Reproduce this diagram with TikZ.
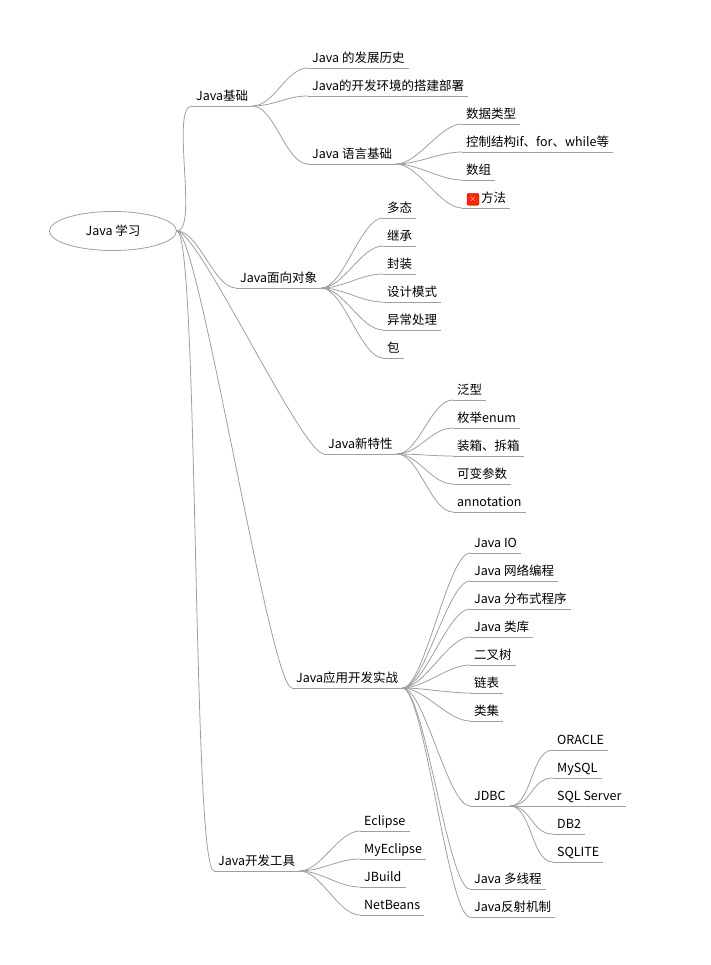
\documentclass[tikz,border=0pt]{standalone}
\usepackage{fontspec}
\setmainfont{Noto Sans CJK SC}
\usetikzlibrary{shapes.geometric}

\tikzset{
	branch/.style={draw=gray!75, line width=0.8pt},
	topic/.style={anchor=south west, inner xsep=4pt, inner ysep=2pt, text height=10pt, text depth=3pt,
		font=\fontsize{12.5}{14}\selectfont},
}
% node with an underline, placed at the start of its line
\newcommand{\topic}[4]{\node[topic] (#1) at (#2,#3) {#4};
	\draw[branch] (#1.south west) -- (#1.south east);}
% curved connector from one line end to the next line start
\newcommand{\link}[2]{\draw[branch] (#1) .. controls +(22,0) and +(-22,0) .. (#2.south west);}

\begin{document}
\begin{tikzpicture}[x=1pt, y=-1pt]
	\useasboundingbox (0,0) rectangle (711,965);

	\node[draw=gray!75, line width=0.8pt, ellipse, minimum width=127pt, minimum height=39pt,
		font=\fontsize{12.5}{14}\selectfont] (root) at (113,231) {Java 学习};

	% level one
	\topic{basic}{192}{106}{Java基础}
	\topic{oop}{236}{288}{Java面向对象}
	\topic{newf}{324}{454}{Java新特性}
	\topic{app}{292}{688}{Java应用开发实战}
	\topic{tools}{214}{871}{Java开发工具}
	\foreach \n in {basic,oop,newf,app,tools}
		\link{root.east}{\n};

	% Java 基础
	\topic{hist}{308}{68}{Java 的发展历史}
	\topic{env}{308}{96}{Java的开发环境的搭建部署}
	\topic{lang}{308}{164}{Java 语言基础}
	\foreach \n in {hist,env,lang}
		\link{basic.south east}{\n};

	\topic{types}{462}{124}{数据类型}
	\topic{ctrl}{462}{152}{控制结构if、for、while等}
	\topic{arr}{462}{180}{数组}
	\topic{meth}{462}{208}{\hspace{15pt}方法}
	\foreach \n in {types,ctrl,arr,meth}
		\link{lang.south east}{\n};
	\node[fill=red!70!orange, draw=red!60!black, rounded corners=2pt, minimum size=12pt, inner sep=0pt,
		text=white, font=\bfseries\small] (icon) at ([xshift=11pt]meth.west) {$\times$};

	% Java 面向对象
	\topic{poly}{383}{218}{多态}
	\topic{inh}{383}{246}{继承}
	\topic{enc}{383}{274}{封装}
	\topic{pat}{383}{302}{设计模式}
	\topic{exc}{383}{330}{异常处理}
	\topic{pkg}{383}{358}{包}
	\foreach \n in {poly,inh,enc,pat,exc,pkg}
		\link{oop.south east}{\n};

	% Java 新特性
	\topic{gen}{453}{400}{泛型}
	\topic{enum}{453}{428}{枚举enum}
	\topic{box}{453}{456}{装箱、拆箱}
	\topic{var}{453}{484}{可变参数}
	\topic{ann}{453}{512}{annotation}
	\foreach \n in {gen,enum,box,var,ann}
		\link{newf.south east}{\n};

	% Java 应用开发实战
	\topic{io}{470}{553}{Java IO}
	\topic{net}{470}{581}{Java 网络编程}
	\topic{dist}{470}{609}{Java 分布式程序}
	\topic{lib}{470}{637}{Java 类库}
	\topic{tree}{470}{665}{二叉树}
	\topic{list}{470}{693}{链表}
	\topic{coll}{470}{721}{类集}
	\topic{jdbc}{470}{806}{JDBC}
	\topic{thr}{470}{889}{Java 多线程}
	\topic{refl}{470}{917}{Java反射机制}
	\foreach \n in {io,net,dist,lib,tree,list,coll,jdbc,thr,refl}
		\link{app.south east}{\n};

	\topic{ora}{553}{750}{ORACLE}
	\topic{mysql}{553}{778}{MySQL}
	\topic{sqls}{553}{806}{SQL Server}
	\topic{db2}{553}{834}{DB2}
	\topic{lite}{553}{862}{SQLITE}
	\foreach \n in {ora,mysql,sqls,db2,lite}
		\link{jdbc.south east}{\n};

	% Java 开发工具
	\topic{ecl}{360}{831}{Eclipse}
	\topic{myecl}{360}{859}{MyEclipse}
	\topic{jb}{360}{887}{JBuild}
	\topic{nb}{360}{915}{NetBeans}
	\foreach \n in {ecl,myecl,jb,nb}
		\link{tools.south east}{\n};
\end{tikzpicture}
\end{document}
